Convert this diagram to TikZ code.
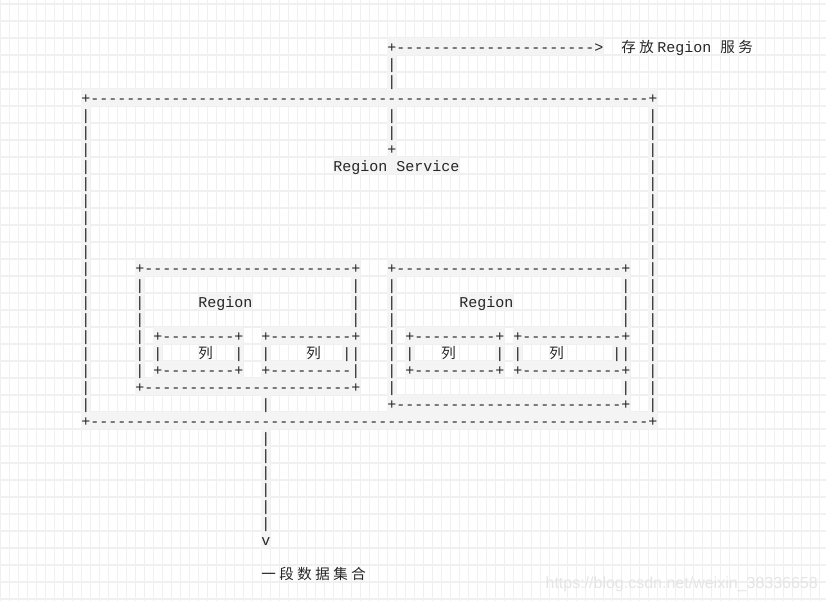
\documentclass[tikz,border=0pt]{standalone}
\usepackage{fontspec}
\newfontfamily\asciifont{Liberation Mono}
\newfontfamily\cjkfont{Noto Sans CJK SC}
\newfontfamily\wmfont{Liberation Sans}
\definecolor{gridc}{HTML}{F0F0F0}
\definecolor{hlc}{HTML}{F4F4F4}
\newcommand{\dashrun}[1]{\foreach \dashi in {1,...,#1}{-}}
\newcommand{\cjkc}[1]{\makebox[18bp][l]{\cjkfont\fontsize{14.5bp}{17bp}\selectfont #1}}
\newcommand{\hl}[4]{\fill[hlc] (#1,#3-0.865) rectangle (#2+1,#4+0.135);}

\begin{document}
\begin{tikzpicture}
            [x=1bp,y=1bp,
             asc/.style={font={\asciifont\fontsize{15bp}{17bp}\selectfont},anchor=base west,inner sep=0pt,text=black!85}]
            \useasboundingbox (0,0) rectangle (826,-601);
            \fill[white] (0,0) rectangle (826,-601);
            \begin{scope}[x=9bp,y=-17bp,shift={(81.2bp,-52.7bp)}]
            \clip (-9.02,-3.1) rectangle (82.76,32.25);
            % grid
            \foreach \c in {-9,...,82} \draw[gridc,line width=1.4bp] (\c,-4) -- (\c,33);
            \foreach \r in {-3,...,32} \draw[gridc,line width=1.1bp] (-10,\r+0.135) -- (83,\r+0.135);
            % shaded runs
            \hl{34}{57}{0}{0} \hl{34}{34}{1}{2}
            \hl{0}{63}{3}{3} \hl{0}{63}{22}{22}
            \hl{0}{0}{4}{21} \hl{63}{63}{4}{21}
            \hl{34}{34}{4}{6} \hl{28}{41}{7}{7}
            \hl{6}{30}{13}{13} \hl{6}{30}{20}{20} \hl{6}{6}{14}{19} \hl{30}{30}{14}{19}
            \hl{13}{18}{15}{15}
            \hl{8}{17}{17}{17} \hl{20}{30}{17}{17} \hl{8}{17}{19}{19} \hl{20}{30}{19}{19}
            \hl{8}{8}{18}{18} \hl{17}{17}{18}{18} \hl{20}{20}{18}{18} \hl{29}{29}{18}{18}
            \hl{34}{60}{13}{13} \hl{34}{60}{21}{21} \hl{34}{34}{14}{20} \hl{60}{60}{14}{20}
            \hl{42}{47}{15}{15}
            \hl{36}{46}{17}{17} \hl{48}{60}{17}{17} \hl{36}{46}{19}{19} \hl{48}{60}{19}{19}
            \hl{36}{36}{18}{18} \hl{46}{46}{18}{18} \hl{48}{48}{18}{18} \hl{59}{59}{18}{18}
            \hl{20}{20}{21}{29}
            %
            \node[asc] (arrow) at (34,0) {+\dashrun{22}>};
            \node[asc] (store) at (60,0) {\cjkc{存}\cjkc{放}Region \cjkc{服}\cjkc{务}};
            \foreach \r in {1,2,4,5} \node[asc] (up\r) at (34,\r) {|};
            \node[asc] (svc) at (34,6) {+};
            \node[asc] (svclabel) at (28,7) {Region Service};
            %
            \node[asc] (outtop) at (0,3) {+\dashrun{62}+};
            \node[asc] (outbot) at (0,22) {+\dashrun{62}+};
            \foreach \r in {4,...,21} {
              \node[asc] (outl\r) at (0,\r) {|};
              \node[asc] (outr\r) at (63,\r) {|};
            }
            %
            \node[asc] (ltop) at (6,13) {+\dashrun{23}+};
            \node[asc] (lbot) at (6,20) {+\dashrun{23}+};
            \foreach \r in {14,...,19} \node[asc] (ll\r) at (6,\r) {|};
            \foreach \r in {14,15,16,18} \node[asc] (lr\r) at (30,\r) {|};
            \node[asc] (lname) at (13,15) {Region};
            \node[asc] (lc1top) at (8,17) {+\dashrun{8}+};
            \node[asc] (lc1bot) at (8,19) {+\dashrun{8}+};
            \node[asc] (lc1l) at (8,18) {|};
            \node[asc] (lc1txt) at (13,18) {\cjkc{列}};
            \node[asc] (lc1r) at (17,18) {|};
            \node[asc] (lc2top) at (20,17) {+\dashrun{9}+};
            \node[asc] (lc2bot) at (20,19) {+\dashrun{9}|};
            \node[asc] (lc2l) at (20,18) {|};
            \node[asc] (lc2txt) at (25,18) {\cjkc{列}};
            \node[asc] (lc2r) at (29,18) {|};
            %
            \node[asc] (rtop) at (34,13) {+\dashrun{25}+};
            \node[asc] (rbot) at (34,21) {+\dashrun{25}+};
            \foreach \r in {14,...,20} \node[asc] (rl\r) at (34,\r) {|};
            \foreach \r in {14,15,16,18,20} \node[asc] (rr\r) at (60,\r) {|};
            \node[asc] (rname) at (42,15) {Region};
            \node[asc] (rc1top) at (36,17) {+\dashrun{9}+};
            \node[asc] (rc1bot) at (36,19) {+\dashrun{9}+};
            \node[asc] (rc1l) at (36,18) {|};
            \node[asc] (rc1txt) at (40,18) {\cjkc{列}};
            \node[asc] (rc1r) at (46,18) {|};
            \node[asc] (rc2top) at (48,17) {+\dashrun{11}+};
            \node[asc] (rc2bot) at (48,19) {+\dashrun{11}+};
            \node[asc] (rc2l) at (48,18) {|};
            \node[asc] (rc2txt) at (52,18) {\cjkc{列}};
            \node[asc] (rc2r) at (59,18) {|};
            %
            \foreach \r in {21,23,24,25,26,27,28} \node[asc] (down\r) at (20,\r) {|};
            \node[asc] (downtip) at (20,29) {v};
            \node[asc] (dataset) at (20,31) {\cjkc{一}\cjkc{段}\cjkc{数}\cjkc{据}\cjkc{集}\cjkc{合}};
            \end{scope}
            \node[anchor=base east,inner sep=0pt,font={\wmfont\fontsize{16bp}{18bp}\selectfont},text=black!10] (mark) at (818,-588.5) {https://blog.csdn.net/weixin\_38336658};
        \end{tikzpicture}
\end{document}
